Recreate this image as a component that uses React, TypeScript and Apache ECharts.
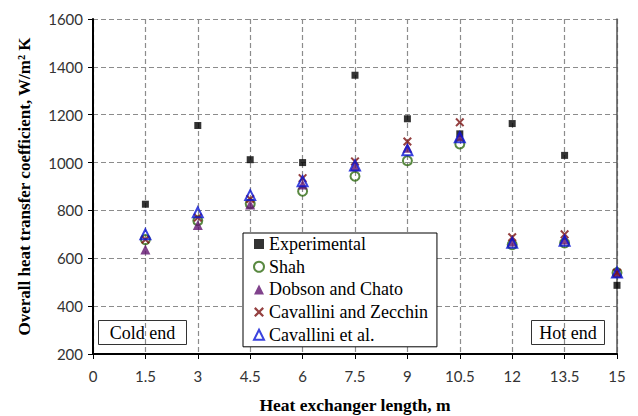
import React, { useEffect, useRef } from "react";
import * as echarts from "echarts";

const positions = [1.5, 3, 4.5, 6, 7.5, 9, 10.5, 12, 13.5, 15];
const experimental = [826, 1155, 1012, 1000, 1365, 1183, 1120, 1163, 1030, 487];
const shah = [678, 757, 828, 880, 943, 1008, 1078, 657, 664, 540];
const dobsonChato = [637, 739, 825, 908, 985, 1062, 1110, 670, 678, 540];
const cavZecchin = [678, 770, 848, 935, 1005, 1088, 1168, 688, 700, 540];
const cavEtAl = [700, 792, 864, 922, 988, 1052, 1106, 665, 673, 541];

const xTicks = { min: 0, max: 15, interval: 1.5 };
const yTicks = { min: 200, max: 1600, interval: 200 };

const SERIF = "Liberation Serif";
const SANS = "Lato";
const XPATH =
  "path://M0,1.6 L1.6,0 L5,3.4 L8.4,0 L10,1.6 L6.6,5 L10,8.4 L8.4,10 L5,6.6 L1.6,10 L0,8.4 L3.4,5 Z";

const pairs = (vals: number[]) => positions.map((x, i) => [x, vals[i]]);

export default function App() {
  const ref = useRef<HTMLDivElement>(null);
  useEffect(() => {
    if (!ref.current) return;
    const chart = echarts.init(ref.current, undefined, { renderer: "svg" });
    const gridLine = { show: true, lineStyle: { color: "#8c8c8c", type: [5, 3], width: 1.2 } };
    const option: any = {
      animation: false,
      backgroundColor: "#fff",
      textStyle: { fontFamily: SERIF },
      grid: { left: 93, right: 21, top: 19, bottom: 62, containLabel: false, outerBoundsMode: "none" },
      xAxis: {
        type: "value",
        ...xTicks,
        name: "Heat exchanger length, m",
        nameLocation: "middle",
        nameGap: 42,
        nameTextStyle: { fontFamily: SERIF, fontWeight: "bold", fontSize: 17.5, color: "#000", verticalAlign: "top", lineHeight: 18 },
        axisLine: { show: true, onZero: false, lineStyle: { color: "#000", width: 2 } },
        axisTick: { show: true, length: 5, lineStyle: { color: "#000" } },
        axisLabel: { fontFamily: SANS, fontSize: 15, color: "#333", margin: 14 },
        splitLine: gridLine,
      },
      yAxis: [
        {
          type: "value",
          ...yTicks,
          name: "Overall heat transfer coefficient, W/m\u00b2 K",
          nameLocation: "middle",
          nameGap: 60,
          nameTextStyle: { fontFamily: SERIF, fontWeight: "bold", fontSize: 17, color: "#000" },
          axisLine: { show: true, lineStyle: { color: "#000", width: 2 } },
          axisTick: { show: true, length: 5, lineStyle: { color: "#000" } },
          axisLabel: { fontFamily: SANS, fontSize: 15, color: "#333", margin: 10, formatter: (v: number) => String(v) },
          splitLine: gridLine,
        },
        {
          type: "value",
          ...yTicks,
          position: "right",
          axisLine: { show: true, lineStyle: { color: "#555", width: 1.5 } },
          axisTick: { show: false },
          axisLabel: { show: false },
          splitLine: { show: false },
        },
      ],
      legend: {
        orient: "vertical",
        left: 243,
        top: 233,
        backgroundColor: "#fff",
        borderColor: "#000",
        borderWidth: 1,
        borderRadius: 0,
        padding: [1, 9, 2, 10],
        itemGap: 2.7,
        itemWidth: 10,
        itemHeight: 10,
        itemTextGap: 14,
        textStyle: { fontFamily: SERIF, fontSize: 18, color: "#000", lineHeight: 20 },
        data: ["Experimental", "Shah", "Dobson and Chato", "Cavallini and Zecchin", "Cavallini et al."],
      },
      series: [
        {
          name: "Experimental",
          type: "scatter",
          symbol: "rect",
          symbolSize: 7,
          itemStyle: { color: "#000" },
          data: pairs(experimental),
          z: 2,
        },
        {
          name: "Shah",
          type: "scatter",
          symbol: "circle",
          symbolSize: 9,
          itemStyle: { color: "rgba(255,255,255,0)", borderColor: "#2f6b12", borderWidth: 2 },
          data: pairs(shah),
          z: 3,
        },
        {
          name: "Dobson and Chato",
          type: "scatter",
          symbol: "triangle",
          symbolSize: 10,
          itemStyle: { color: "#60136f" },
          data: pairs(dobsonChato),
          z: 4,
        },
        {
          name: "Cavallini and Zecchin",
          type: "scatter",
          symbol: XPATH,
          symbolSize: 9,
          itemStyle: { color: "#7b1111" },
          data: pairs(cavZecchin),
          z: 5,
        },
        {
          name: "Cavallini et al.",
          type: "scatter",
          symbol: "triangle",
          symbolSize: 10,
          itemStyle: { color: "rgba(255,255,255,0)", borderColor: "#0a14d6", borderWidth: 2 },
          data: pairs(cavEtAl),
          z: 6,
        },
      ],
      graphic: [
        {
          type: "group",
          left: 98,
          top: 320,
          children: [
            { type: "rect", shape: { x: 0, y: 0, width: 88, height: 24 }, style: { fill: "#fff", stroke: "#333", lineWidth: 1 } },
            {
              type: "text",
              x: 44,
              y: 12.5,
              style: { text: "Cold end", fontFamily: SERIF, fontSize: 18, fill: "#000", align: "center", verticalAlign: "middle" },
            },
          ],
        },
        {
          type: "group",
          left: 531,
          top: 320,
          children: [
            { type: "rect", shape: { x: 0, y: 0, width: 73, height: 24 }, style: { fill: "#fff", stroke: "#333", lineWidth: 1 } },
            {
              type: "text",
              x: 36.5,
              y: 12.5,
              style: { text: "Hot end", fontFamily: SERIF, fontSize: 18, fill: "#000", align: "center", verticalAlign: "middle" },
            },
          ],
        },
      ],
    };
    chart.setOption(option);
    return () => chart.dispose();
  }, []);
  return <div ref={ref} style={{ width: 638, height: 416, position: "absolute", left: 0, top: 0 }} />;
}
